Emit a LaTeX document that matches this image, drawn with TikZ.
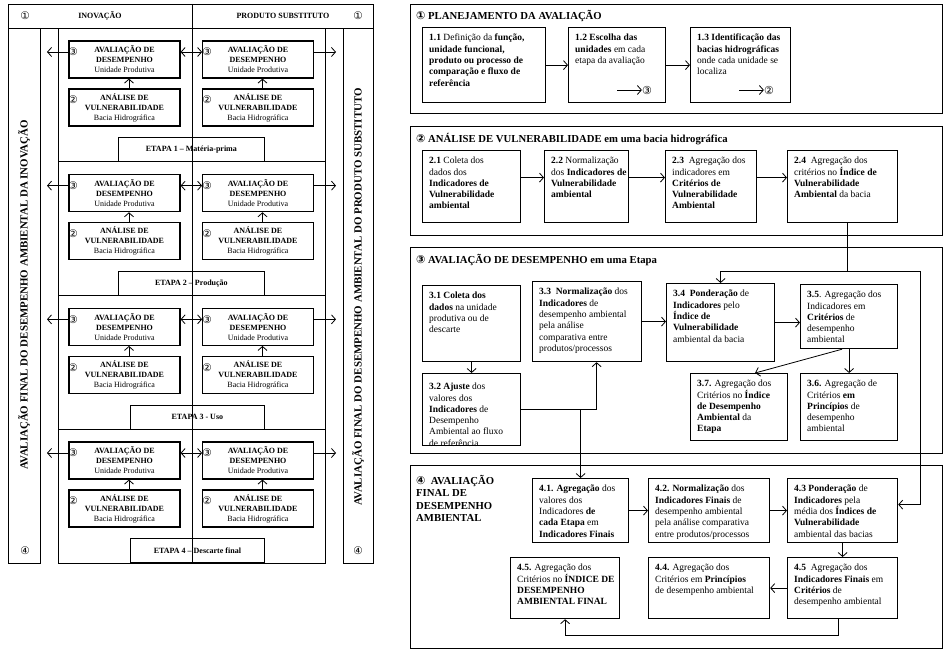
\documentclass[tikz,border=0pt]{standalone}
\usepackage{fontspec}
\setmainfont{Liberation Serif}
\newfontfamily\djv{DejaVu Sans}
\usetikzlibrary{arrows.meta,calc}
\newcommand{\cns}[1]{{\djv\fontsize{10.5}{10.5}\selectfont #1}}
\newcommand{\cnt}[1]{{\djv\fontsize{11}{11}\selectfont #1}}
\newcommand{\bx}[6]{%
  \node[rbox, minimum width={(#4)-(#2)}, minimum height={(#5)-(#3)}, anchor=north west] (#1) at (#2,#3) {};
  \node[rtxt, anchor=north west] (#1t) at ([shift={(7pt,-7pt)}]#1.north west) {#6};
}
\begin{document}
\begin{tikzpicture}[x=1pt,y=-1pt,
  >={Straight Barb[length=4pt,width=9pt]},
  arr/.style={->, line width=0.8pt},
  dbl/.style={<->, line width=0.8pt},
  frame/.style={draw, line width=0.8pt},
  lbox/.style={draw, line width=1.2pt, minimum width=111pt, minimum height=37pt, align=center, inner sep=0pt, font=\bfseries\fontsize{8}{10}\selectfont},
  ebox/.style={draw, line width=0.8pt, minimum height=24pt, inner sep=0pt, font=\bfseries\fontsize{8}{10}\selectfont},
  cnode/.style={inner sep=0pt},
  hdr/.style={inner sep=0pt, font=\bfseries\fontsize{8}{10}\selectfont},
  vt/.style={inner sep=0pt, font=\bfseries\fontsize{10.9}{12}\selectfont},
  rbox/.style={draw, line width=1.2pt, inner sep=0pt},
  rtxt/.style={inner sep=0pt, align=left, font=\fontsize{9.5}{11.3}\selectfont},
  ttl/.style={inner sep=0pt, align=left, font=\bfseries\fontsize{10.7}{12.5}\selectfont}]
\useasboundingbox[fill=white] (0,0) rectangle (950,655);

% ---------------- left panel ----------------
\draw[frame] (8,4) rectangle (373,28);
\draw[frame] (8,28) rectangle (40,563);
\draw[frame] (343,28) rectangle (373,563);
\draw[frame] (58,28) rectangle (325,563);
\draw[frame] (192,4) -- (192,563);
\node[hdr] (hin) at (100,16) {INOVAÇÃO};
\node[hdr] (hps) at (283,16) {PRODUTO SUBSTITUTO};
\node[cnode] (c1a) at (25,16) {\cns{①}};
\node[cnode] (c1b) at (358,16) {\cns{①}};
\node[cnode] (c4a) at (25,551) {\cns{④}};
\node[cnode] (c4b) at (358,551) {\cns{④}};
\node[vt, rotate=90] (vtl) at (24,295) {AVALIAÇÃO FINAL DO DESEMPENHO AMBIENTAL DA INOVAÇÃO};
\node[vt, rotate=90] (vtr) at (358,297) {AVALIAÇÃO FINAL DO DESEMPENHO AMBIENTAL DO PRODUTO SUBSTITUTO};

\foreach \i/\s/\ex/\ew/\et in {1/28/118/146/{ETAPA 1 – Matéria-prima},2/161.67/118/146/{ETAPA 2 – Produção},3/295.33/130/134/{ETAPA 3 - Uso},4/429/130/134/{ETAPA 4 – Descarte final}} {
  \draw[frame] (58,\s) -- (325,\s);
  \node[lbox] (aL\i) at (124.5,\s+31.5) {AVALIAÇÃO DE\\DESEMPENHO\\{\mdseries Unidade Produtiva}};
  \node[lbox] (aR\i) at (258,\s+31.5) {AVALIAÇÃO DE\\DESEMPENHO\\{\mdseries Unidade Produtiva}};
  \node[lbox] (vL\i) at (124.5,\s+79.5) {ANÁLISE DE\\VULNERABILIDADE\\{\mdseries Bacia Hidrográfica}};
  \node[lbox] (vR\i) at (258,\s+79.5) {ANÁLISE DE\\VULNERABILIDADE\\{\mdseries Bacia Hidrográfica}};
  \node[ebox, minimum width=\ew, anchor=south west] (e\i) at (\ex,\s+134) {\et};
  \node[cnode] (tL\i) at (73,\s+24) {\cns{③}};
  \node[cnode] (tR\i) at (207,\s+24) {\cns{③}};
  \node[cnode] (dL\i) at (73,\s+72) {\cns{②}};
  \node[cnode] (dR\i) at (207,\s+72) {\cns{②}};
  \coordinate (fL\i) at (47,\s+24);
  \coordinate (fR\i) at (336,\s+24);
  \draw[arr] (tL\i.west) -- (fL\i);
  \draw[arr] (aR\i.east |- fR\i) -- (fR\i);
  \draw[dbl] (aL\i.east |- fL\i) -- (tR\i.west);
  \draw[arr] ([xshift=4.5pt]vL\i.north) -- ([xshift=4.5pt]aL\i.south);
  \draw[arr] ([xshift=4.5pt]vR\i.north) -- ([xshift=4.5pt]aR\i.south);
}

% ---------------- section 1 ----------------
\draw[frame] (410,4) rectangle (942,113);
\node[ttl, anchor=west] (s1) at (416,16) {\cnt{①} PLANEJAMENTO DA AVALIAÇÃO};
\bx{b11}{422}{27}{545}{102}{\textbf{1.1} Definição da \textbf{função,}\\\textbf{unidade funcional,}\\\textbf{produto ou processo de}\\\textbf{comparação e fluxo de}\\\textbf{referência}}
\bx{b12}{568}{27}{665}{102}{\textbf{1.2 Escolha das}\\\textbf{unidades} em cada\\etapa da avaliação}
\bx{b13}{690}{27}{790}{102}{\textbf{1.3 Identificação das}\\\textbf{bacias hidrográficas}\\onde cada unidade se\\localiza}
\draw[arr] (b11.east) -- (b12.west);
\draw[arr] (b12.east) -- (b13.west);
\coordinate (m12) at (617,90);
\node[cnode] (n12) at (647,90) {\cnt{③}};
\draw[arr] (m12) -- (n12.west);
\coordinate (m13) at (739,90);
\node[cnode] (n13) at (769,90) {\cnt{②}};
\draw[arr] (m13) -- (n13.west);

% ---------------- section 2 ----------------
\draw[frame] (410,126) rectangle (942,235);
\node[ttl, anchor=west] (s2) at (416,139) {\cnt{②} ANÁLISE DE VULNERABILIDADE em uma bacia hidrográfica};
\bx{b21}{422}{150}{520}{222}{\textbf{2.1} Coleta dos\\dados dos\\\textbf{Indicadores de}\\\textbf{Vulnerabilidade}\\\textbf{ambiental}}
\bx{b22}{544}{150}{628}{222}{\textbf{2.2} Normalização\\dos \textbf{Indicadores de}\\\textbf{Vulnerabilidade}\\\textbf{ambiental}}
\bx{b23}{665}{150}{756}{222}{\textbf{2.3}\ \ Agregação dos\\indicadores em\\\textbf{Critérios de}\\\textbf{Vulnerabilidade}\\\textbf{Ambiental}}
\bx{b24}{787}{150}{897}{222}{\textbf{2.4}\ \ Agregação dos\\critérios no \textbf{Índice de}\\\textbf{Vulnerabilidade}\\\textbf{Ambiental} da bacia}
\draw[arr] ([yshift=9pt]b21.east) -- ([yshift=9pt]b22.west);
\draw[arr] ([yshift=9pt]b22.east) -- ([yshift=9pt]b23.west);
\draw[arr] ([yshift=9pt]b23.east) -- ([yshift=9pt]b24.west);

% ---------------- section 3 ----------------
\draw[frame] (410,247) rectangle (942,453);
\node[ttl, anchor=west] (s3) at (416,260) {\cnt{③} AVALIAÇÃO DE DESEMPENHO em uma Etapa};
\bx{b31}{422}{285}{520}{361}{\textbf{3.1 Coleta dos}\\\textbf{dados} na unidade\\produtiva ou de\\descarte}
\node[rbox, minimum width=98, minimum height=72, anchor=north west] (b32) at (422,373) {};
\begin{scope}
  \clip (b32.north west) rectangle (b32.south east);
  \node[rtxt, anchor=north west] (b32t) at ([shift={(7pt,-10pt)}]b32.north west) {\textbf{3.2 Ajuste} dos\\valores dos\\\textbf{Indicadores} de\\Desempenho\\Ambiental ao fluxo\\de referência};
\end{scope}
\bx{b33}{532}{281}{641}{361}{\textbf{3.3\ \ Normalização} dos\\\textbf{Indicadores} de\\desempenho ambiental\\pela análise\\comparativa entre\\produtos/processos}
\bx{b34}{666}{283}{774}{361}{\textbf{3.4\ \ Ponderação} de\\\textbf{Indicadores} pelo\\\textbf{Índice de}\\\textbf{Vulnerabilidade}\\ambiental da bacia}
\bx{b35}{800}{284}{897}{348}{\textbf{3.5}. Agregação dos\\Indicadores em\\\textbf{Critérios} de\\desempenho\\ambiental}
\bx{b37}{690}{373}{787}{440}{\textbf{3.7.} Agregação dos\\Critérios no \textbf{Índice}\\\textbf{de Desempenho}\\\textbf{Ambiental} da\\\textbf{Etapa}}
\bx{b36}{800}{373}{897}{440}{\textbf{3.6.} Agregação de\\Critérios \textbf{em}\\\textbf{Princípios} de\\desempenho\\ambiental}
\draw[arr] (b31.south) -- (b32.north);
\draw[arr] (b32.east) -| ([xshift=9.5pt]b33.south);
\draw[arr] (b33.east) -- (b34.west |- b33.east);
\draw[arr] (b34.east) -- (b35.west |- b34.east);
\draw[arr] (b35.south) -- (b36.north);
\draw[arr] ([xshift=-7pt]b35.south) -- ([xshift=16pt]b37.north);

% ---------------- section 4 ----------------
\draw[frame] (410,465) rectangle (942,648);
\node[ttl, anchor=north west] (s4) at (416,475) {\cnt{④}\ \ AVALIAÇÃO\\FINAL DE\\DESEMPENHO\\AMBIENTAL};
\bx{b41}{532}{478}{628}{542}{\textbf{4.1. Agregação} dos\\valores dos\\Indicadores \textbf{de}\\\textbf{cada Etapa} em\\\textbf{Indicadores Finais}}
\bx{b42}{648}{478}{769}{542}{\textbf{4.2. Normalização} dos\\\textbf{Indicadores Finais} de\\desempenho ambiental\\pela análise comparativa\\entre produtos/processos}
\bx{b43}{787}{478}{897}{542}{\textbf{4.3 Ponderação} de\\\textbf{Indicadores} pela\\média dos \textbf{Índices de}\\\textbf{Vulnerabilidade}\\ambiental das bacias}
\bx{b45l}{510}{557}{619}{618}{\textbf{4.5.} Agregação dos\\Critérios no \textbf{ÍNDICE DE}\\\textbf{DESEMPENHO}\\\textbf{AMBIENTAL FINAL}}
\bx{b44}{648}{557}{769}{618}{\textbf{4.4.} Agregação dos\\Critérios em \textbf{Princípios}\\de desempenho ambiental}
\bx{b45r}{787}{557}{897}{618}{\textbf{4.5}\ \ Agregação dos\\\textbf{Indicadores Finais} em\\\textbf{Critérios} de\\desempenho ambiental}
\draw[arr] (b41.east) -- (b42.west);
\draw[arr] (b42.east) -- (b43.west);
\draw[arr] (b43.south) -- (b45r.north);
\draw[arr] (b45r.west) -- (b44.east);
\draw[arr] ([xshift=-4pt]b45r.south) -- ++(0,16) -| (b45l.south);

% connectors between sections
\draw[arr] (b32.east -| b41.north) -- (b41.north);
\coordinate (j1) at (847,271);
\coordinate (j2) at (920,271);
\draw[line width=0.8pt] (b24.south -| j1) -- (j1);
\draw[arr] (j1) -| (b34.north);
\draw[arr] (j1) -- (j2) |- ([yshift=6pt]b43.east);
\end{tikzpicture}
\end{document}
